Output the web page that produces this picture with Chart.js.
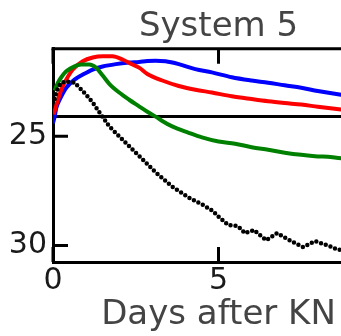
<!DOCTYPE html>
<html>
<head>
<meta charset="utf-8">
<script src="https://cdn.jsdelivr.net/npm/chart.js@4/dist/chart.umd.min.js"></script>
<style>
  html, body { margin: 0; padding: 0; background: #fff; overflow: hidden; }
  #wrap { width: 400px; height: 336px; }
</style>
</head>
<body>
<div id="wrap"><canvas id="c" width="400" height="336"></canvas></div>
<script>
// Light curves (apparent magnitude vs. days after the kilonova)
const blackDays = [0.05, 0.1, 0.15, 0.25, 0.45, 0.65, 0.8, 1.0, 1.2, 1.4, 1.7, 2.1, 2.6, 3.1, 3.6, 4.1, 4.53, 4.83, 4.98, 5.29, 5.59, 5.8, 6.07, 6.44, 6.77, 7.19, 7.55, 7.92, 8.43, 8.6, 9.0, 9.5, 10];
const blackMags = [23.3, 23.0, 22.8, 22.55, 22.5, 22.55, 22.78, 23.1, 23.46, 23.9, 24.55, 25.15, 25.9, 26.65, 27.3, 27.8, 28.14, 28.42, 28.65, 29.06, 29.11, 29.43, 29.29, 29.75, 29.43, 29.79, 30.07, 29.79, 30.07, 30.2, 30.1, 30.25, 30.2];

const greenDays = [0.05, 0.15, 0.25, 0.4, 0.65, 0.85, 1.1, 1.3, 1.5, 1.7, 2.0, 2.3, 2.6, 2.85, 3.1, 3.3, 3.6, 4.1, 4.5, 5.0, 5.5, 6.0, 6.5, 7.0, 7.5, 8.0, 8.3, 8.7, 9.3, 10];
const greenMags = [22.9, 22.55, 22.3, 22.03, 21.8, 21.72, 21.72, 21.86, 22.22, 22.6, 23.0, 23.33, 23.63, 23.88, 24.1, 24.3, 24.55, 24.84, 25.05, 25.24, 25.34, 25.5, 25.62, 25.75, 25.85, 25.92, 25.94, 26.0, 26.05, 26.1];

const redDays = [0.02, 0.15, 0.25, 0.4, 0.6, 0.9, 1.2, 1.5, 1.8, 2.1, 2.4, 2.6, 2.85, 3.3, 3.8, 4.3, 4.8, 5.4, 6.0, 6.5, 7.0, 7.5, 8.0, 8.7, 9.3, 10];
const redMags = [24.0, 23.33, 22.87, 22.41, 21.95, 21.57, 21.4, 21.34, 21.34, 21.49, 21.72, 21.86, 22.15, 22.45, 22.7, 22.87, 23.0, 23.17, 23.3, 23.4, 23.48, 23.55, 23.65, 23.78, 23.88, 24.0];

const blueDays = [0.0, 0.05, 0.1, 0.2, 0.4, 0.65, 0.9, 1.2, 1.5, 1.9, 2.3, 2.6, 2.85, 3.1, 3.4, 3.8, 4.3, 4.8, 5.4, 6.0, 6.5, 7.0, 7.5, 8.0, 8.7, 9.3, 10];
const blueMags = [24.4, 24.1, 23.7, 23.33, 22.78, 22.41, 22.18, 21.95, 21.81, 21.7, 21.63, 21.6, 21.56, 21.55, 21.57, 21.7, 21.93, 22.08, 22.3, 22.45, 22.55, 22.67, 22.78, 22.93, 23.1, 23.22, 23.35];

// Detection limit and axis ticks
const limitMag = 24.1;
const xTickValues = [0, 5];
const yTickValues = [25, 30];

const FONT = "'DejaVu Sans', sans-serif";
const pts = (xs, ys) => xs.map((x, i) => ({ x: x, y: ys[i] }));

// Frame: top border, inward tick marks and the limiting-magnitude line
const framePlugin = {
  id: 'frame',
  beforeDatasetsDraw(chart) {
    const { ctx, chartArea: a, scales: { y } } = chart;
    const py = y.getPixelForValue(limitMag);
    ctx.save();
    ctx.strokeStyle = '#000';
    ctx.lineWidth = 3;
    ctx.beginPath();
    ctx.moveTo(a.left, py);
    ctx.lineTo(a.right, py);
    ctx.stroke();
    ctx.restore();
  },
  afterDatasetsDraw(chart) {
    const { ctx, chartArea: a, scales: { x, y } } = chart;
    ctx.save();
    ctx.strokeStyle = '#000';
    ctx.lineWidth = 3;
    ctx.beginPath();
    ctx.moveTo(a.left - 1.5, a.top);
    ctx.lineTo(a.right, a.top);
    ctx.lineTo(a.right, a.bottom);
    ctx.stroke();
    const len = 15;
    ctx.beginPath();
    yTickValues.forEach(v => {
      const p = y.getPixelForValue(v);
      ctx.moveTo(a.left, p); ctx.lineTo(a.left + len, p);
      ctx.moveTo(a.right, p); ctx.lineTo(a.right - len, p);
    });
    xTickValues.forEach(v => {
      const p = x.getPixelForValue(v);
      ctx.moveTo(p, a.bottom); ctx.lineTo(p, a.bottom - len);
      ctx.moveTo(p, a.top); ctx.lineTo(p, a.top + len);
    });
    ctx.stroke();
    ctx.restore();
  }
};

const curve = (data, color) => ({
  data: data,
  borderColor: color,
  borderWidth: 4,
  pointRadius: 0,
  fill: false,
  cubicInterpolationMode: 'monotone'
});

new Chart(document.getElementById('c'), {
  type: 'line',
  data: {
    datasets: [
      {
        data: pts(blackDays, blackMags),
        borderColor: '#000',
        borderWidth: 4.5,
        borderDash: [0, 5],
        borderCapStyle: 'round',
        pointRadius: 0,
        fill: false,
        tension: 0
      },
      curve(pts(greenDays, greenMags), '#008000'),
      curve(pts(redDays, redMags), '#ff0000'),
      curve(pts(blueDays, blueMags), '#0000ff')
    ]
  },
  options: {
    responsive: false,
    animation: false,
    events: [],
    layout: { padding: { left: 0, right: 16, top: 0, bottom: 0 } },
    plugins: {
      legend: { display: false },
      tooltip: { enabled: false },
      title: {
        display: true,
        text: 'System 5',
        fullSize: false,
        color: '#444',
        font: { family: FONT, size: 34, weight: 'normal', lineHeight: 1.2 },
        padding: { top: 7, bottom: 1 }
      }
    },
    scales: {
      x: {
        type: 'linear',
        min: 0,
        max: 10,
        grid: { display: false, drawTicks: false },
        border: { display: true, width: 3, color: '#000' },
        afterBuildTicks: s => { s.ticks = xTickValues.map(v => ({ value: v })); },
        afterFit: s => { s.height = 74; },
        ticks: {
          font: { family: FONT, size: 30 },
          color: '#1a1a1a',
          padding: 1,
          maxRotation: 0,
          autoSkip: false
        },
        title: {
          display: true,
          text: 'Days after KN',
          color: '#444',
          font: { family: FONT, size: 34, lineHeight: 1.2 },
          padding: { top: 0, bottom: 0 }
        }
      },
      y: {
        type: 'linear',
        reverse: true,
        min: 21,
        max: 30.75,
        grid: { display: false, drawTicks: false },
        border: { display: true, width: 3, color: '#000' },
        afterBuildTicks: s => { s.ticks = yTickValues.map(v => ({ value: v })); },
        afterFit: s => { s.width = 53; },
        ticks: {
          font: { family: FONT, size: 30 },
          color: '#1a1a1a',
          padding: 6,
          autoSkip: false
        }
      }
    }
  },
  plugins: [framePlugin]
});
</script>
</body>
</html>
